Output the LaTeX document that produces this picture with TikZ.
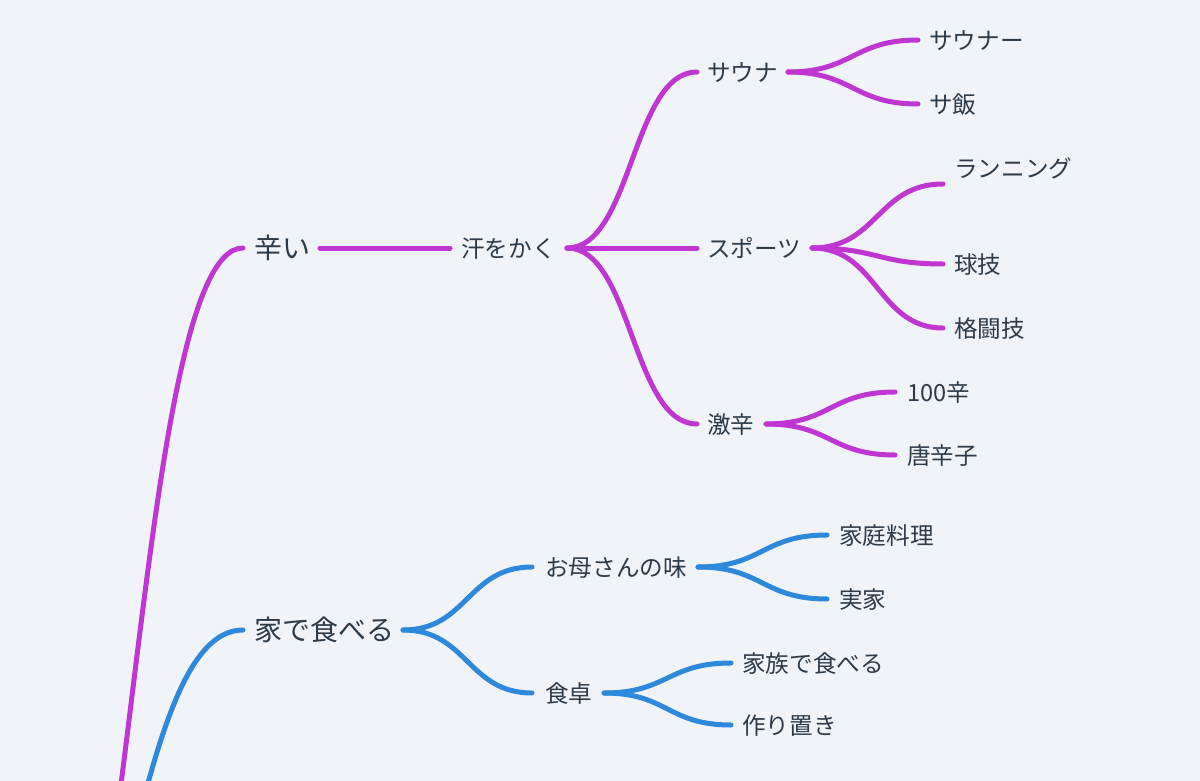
\documentclass[tikz,border=0pt]{standalone}
\usepackage{fontspec}
\setmainfont{Noto Sans CJK JP}
\usetikzlibrary{calc}
\definecolor{bg}{HTML}{F0F4F8}
\definecolor{pur}{HTML}{BF36D3}
\definecolor{blu}{HTML}{2E88DB}
\definecolor{txt}{HTML}{2D3A48}
\newcommand\lnk[3]{\draw[#1] let \p1=(#2), \p2=(#3), \n1={0.5*\x1+0.5*\x2} in (#2) .. controls (\n1,\y1) and (\n1,\y2) .. (#3);}
\begin{document}
\begin{tikzpicture}[x=1pt,y=-1pt,
  lbl/.style={anchor=west,inner sep=0pt,text=txt,text height=0.88em,text depth=0.12em,yshift=-6pt,font=\fontsize{23.6}{24}\selectfont},
  big/.style={lbl,yshift=-1pt,font=\fontsize{28}{28}\selectfont},
  pl/.style={draw=pur,line width=5pt,line cap=round},
  bl/.style={draw=blu,line width=5pt,line cap=round}]
\fill[bg] (0,0) rectangle (1200,781);
\useasboundingbox (0,0) rectangle (1200,781);
% ---------- purple branch ----------
\coordinate (rootP) at (20,1152);
\coordinate (karai-in) at (243,248);
\node[big] (karai) at (254,248) {辛い};
\coordinate (karai-out) at (320,248);
\coordinate (ase-in) at (450,248);
\node[lbl] (ase) at (461,248) {汗をかく};
\coordinate (ase-out) at (567,248);
\coordinate (sauna-in) at (697,72);
\node[lbl] (sauna) at (707,72) {サウナ};
\coordinate (sauna-out) at (788,72);
\coordinate (sauner-in) at (918,40);
\node[lbl] (sauner) at (929,40) {サウナー};
\coordinate (sameshi-in) at (918,104);
\node[lbl] (sameshi) at (929,104) {サ飯};
\coordinate (sports-in) at (697,248);
\node[lbl] (sports) at (707,248) {スポーツ};
\coordinate (sports-out) at (812,248);
\coordinate (run-in) at (943,184);
\node[lbl] (run) at (954,168) {ランニング};
\coordinate (kyugi-in) at (943,264);
\node[lbl] (kyugi) at (954,264) {球技};
\coordinate (kakuto-in) at (943,328);
\node[lbl] (kakuto) at (954,328) {格闘技};
\coordinate (geki-in) at (697,424);
\node[lbl] (geki) at (707,424) {激辛};
\coordinate (geki-out) at (766,424);
\coordinate (hyaku-in) at (895,392);
\node[lbl] (hyaku) at (907,392) {100辛};
\coordinate (toga-in) at (895,455);
\node[lbl] (toga) at (907,455) {唐辛子};
\lnk{pl}{rootP}{karai-in}
\lnk{pl}{karai-out}{ase-in}
\lnk{pl}{ase-out}{sauna-in}
\lnk{pl}{ase-out}{sports-in}
\lnk{pl}{ase-out}{geki-in}
\lnk{pl}{sauna-out}{sauner-in}
\lnk{pl}{sauna-out}{sameshi-in}
\lnk{pl}{sports-out}{run-in}
\lnk{pl}{sports-out}{kyugi-in}
\lnk{pl}{sports-out}{kakuto-in}
\lnk{pl}{geki-out}{hyaku-in}
\lnk{pl}{geki-out}{toga-in}
% ---------- blue branch ----------
\coordinate (rootB) at (20,1060);
\coordinate (ie-in) at (243,630);
\node[big] (ie) at (254,630) {家で食べる};
\coordinate (ie-out) at (403,630);
\coordinate (haha-in) at (532,567);
\node[lbl] (haha) at (545,567) {お母さんの味};
\coordinate (haha-out) at (698,567);
\coordinate (katei-in) at (827,535);
\node[lbl] (katei) at (839,535) {家庭料理};
\coordinate (jikka-in) at (827,599);
\node[lbl] (jikka) at (839,599) {実家};
\coordinate (shoku-in) at (532,693);
\node[lbl] (shoku) at (545,693) {食卓};
\coordinate (shoku-out) at (604,693);
\coordinate (kazoku-in) at (731,663);
\node[lbl] (kazoku) at (742,663) {家族で食べる};
\coordinate (tsukuri-in) at (731,725);
\node[lbl] (tsukuri) at (742,725) {作り置き};
\lnk{bl}{rootB}{ie-in}
\lnk{bl}{ie-out}{haha-in}
\lnk{bl}{ie-out}{shoku-in}
\lnk{bl}{haha-out}{katei-in}
\lnk{bl}{haha-out}{jikka-in}
\lnk{bl}{shoku-out}{kazoku-in}
\lnk{bl}{shoku-out}{tsukuri-in}
\end{tikzpicture}
\end{document}
